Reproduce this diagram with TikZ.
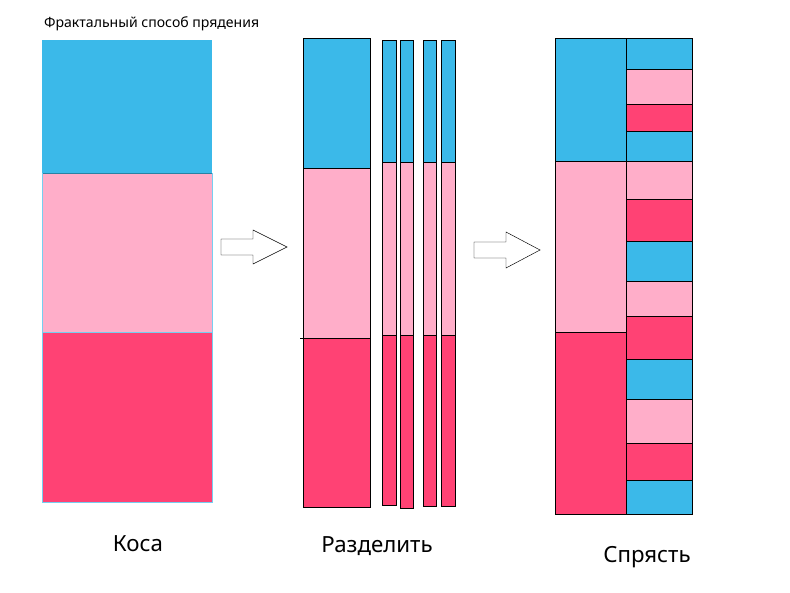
\documentclass[tikz,border=0pt]{standalone}
\usepackage{fontspec}
\setmainfont{Noto Sans}
\usetikzlibrary{positioning}
\definecolor{cblue}{HTML}{3BB9E9}
\definecolor{cpink}{HTML}{FFAEC9}
\definecolor{cred}{HTML}{FF4274}
\tikzset{
  band/.style={draw=black,line width=0.4pt},
  lbl/.style={font=\bfseries\fontsize{19}{22}\selectfont},
  bigarrow/.style={draw=black,fill=white,line width=0.4pt}
}
\begin{document}
\begin{tikzpicture}[x=0.03cm,y=-0.03cm]
\useasboundingbox (0,0) rectangle (790,592);
\node[anchor=west,font=\bfseries\fontsize{12}{14}\selectfont] (title) at (40,24) {Фрактальный способ прядения};
% left block
\fill[cblue] (42,40) rectangle (212,173);
\fill[cpink] (42,173) rectangle (212,332);
\fill[cred] (42,332) rectangle (212,502);
\draw[cblue!70!black,very thin] (42,173) -- (212,173);
\draw[cblue!70,very thin] (42,332) -- (212,332) (212,173) -- (212,502) -- (42,502) -- (42,173);
% arrows
\draw[bigarrow] (221,239) -- (253,239) -- (253,230) -- (287,247) -- (253,264) -- (253,255) -- (221,255) -- cycle;
\draw[bigarrow] (474,242) -- (506,242) -- (506,232) -- (540,250) -- (506,268) -- (506,258) -- (474,258) -- cycle;
% middle
\fill[cblue] (303,38) rectangle (370,168);
\fill[cpink] (303,168) rectangle (370,338);
\fill[cred] (303,338) rectangle (370,507);
\draw[band] (303,38) rectangle (370,507);
\draw[band] (303,168) -- (370,168);
\draw[band] (300,338) -- (370,338);
\foreach \a/\b/\e in {382/396/505,400/413/508,423/436/506,441/455/506}{
  \fill[cblue] (\a,40) rectangle (\b,162);
  \fill[cpink] (\a,162) rectangle (\b,335);
  \fill[cred] (\a,335) rectangle (\b,\e);
  \draw[band] (\a,40) rectangle (\b,\e);
  \draw[band] (\a,162) -- (\b,162) (\a,335) -- (\b,335);
}
% right
\fill[cblue] (555,38) rectangle (626,161);
\fill[cpink] (555,161) rectangle (626,332);
\fill[cred] (555,332) rectangle (626,514);
\draw[band] (555,38) rectangle (626,514);
\draw[band] (555,161) -- (626,161) (555,332) -- (626,332);
\foreach \t/\bt/\c in {38/69/cblue,69/104/cpink,104/131/cred,131/161/cblue,161/199/cpink,199/241/cred,241/281/cblue,281/316/cpink,316/359/cred,359/399/cblue,399/443/cpink,443/480/cred,480/514/cblue}{
  \fill[\c] (626,\t) rectangle (692,\bt);
  \draw[band] (626,\t) rectangle (692,\bt);
}
\node[lbl] (kosa) at (138,544) {Коса};
\node[lbl] (split) at (377,546) {Разделить};
\node[lbl] (spin) at (647,557) {Спрясть};
\end{tikzpicture}
\end{document}
